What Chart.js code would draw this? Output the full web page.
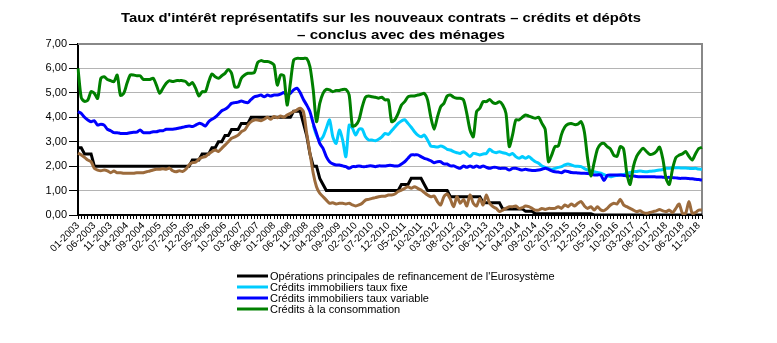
<!DOCTYPE html>
<html>
<head>
<meta charset="utf-8">
<script src="https://cdn.jsdelivr.net/npm/chart.js@4.4.1/dist/chart.umd.min.js"></script>
<style>
  html, body { margin: 0; padding: 0; background: #fff; }
  canvas { display: block; }
</style>
</head>
<body>
<canvas id="chart" width="777" height="343"></canvas>
<script>
"use strict";

const titleLines = [
  "Taux d'intérêt représentatifs sur les nouveaux contrats – crédits et dépôts",
  "– conclus avec des ménages"
];
const seriesNames = [
  "Opérations principales de refinancement de l'Eurosystème",
  "Crédits immobiliers taux fixe",
  "Crédits immobiliers taux variable",
  "Crédits à la consommation",
  "Dépôts"
];
const yTicks = [0, 1, 2, 3, 4, 5, 6, 7];
const firstYear = 2003, lastYear = 2018;
const labelEvery = 5;

// monthly categories 01-2003 .. 12-2018
const months = [];
for (let y = firstYear; y <= lastYear; y++) {
  for (let m = 1; m <= 12; m++) months.push(String(m).padStart(2, "0") + "-" + y);
}

// one row per year, Jan..Dec
const refi = [
  2.75, 2.75, 2.50, 2.50, 2.50, 2.00, 2.00, 2.00, 2.00, 2.00, 2.00, 2.00,
  2.00, 2.00, 2.00, 2.00, 2.00, 2.00, 2.00, 2.00, 2.00, 2.00, 2.00, 2.00,
  2.00, 2.00, 2.00, 2.00, 2.00, 2.00, 2.00, 2.00, 2.00, 2.00, 2.00, 2.25,
  2.25, 2.25, 2.50, 2.50, 2.50, 2.75, 2.75, 3.00, 3.00, 3.25, 3.25, 3.50,
  3.50, 3.50, 3.75, 3.75, 3.75, 4.00, 4.00, 4.00, 4.00, 4.00, 4.00, 4.00,
  4.00, 4.00, 4.00, 4.00, 4.00, 4.00, 4.25, 4.25, 4.25, 3.75, 3.25, 2.50,
  2.00, 2.00, 1.50, 1.25, 1.00, 1.00, 1.00, 1.00, 1.00, 1.00, 1.00, 1.00,
  1.00, 1.00, 1.00, 1.00, 1.00, 1.00, 1.00, 1.00, 1.00, 1.00, 1.00, 1.00,
  1.00, 1.00, 1.00, 1.25, 1.25, 1.25, 1.50, 1.50, 1.50, 1.50, 1.25, 1.00,
  1.00, 1.00, 1.00, 1.00, 1.00, 1.00, 0.75, 0.75, 0.75, 0.75, 0.75, 0.75,
  0.75, 0.75, 0.75, 0.75, 0.50, 0.50, 0.50, 0.50, 0.50, 0.50, 0.25, 0.25,
  0.25, 0.25, 0.25, 0.25, 0.25, 0.15, 0.15, 0.15, 0.05, 0.05, 0.05, 0.05,
  0.05, 0.05, 0.05, 0.05, 0.05, 0.05, 0.05, 0.05, 0.05, 0.05, 0.05, 0.05,
  0.05, 0.05, 0.00, 0.00, 0.00, 0.00, 0.00, 0.00, 0.00, 0.00, 0.00, 0.00,
  0.00, 0.00, 0.00, 0.00, 0.00, 0.00, 0.00, 0.00, 0.00, 0.00, 0.00, 0.00,
  0.00, 0.00, 0.00, 0.00, 0.00, 0.00, 0.00, 0.00, 0.00, 0.00, 0.00, 0.00
];

const immoFixe = [
  null, null, null, null, null, null, null, null, null, null, null, null,
  null, null, null, null, null, null, null, null, null, null, null, null,
  null, null, null, null, null, null, null, null, null, null, null, null,
  null, null, null, null, null, null, null, null, null, null, null, null,
  null, null, null, null, null, null, null, null, null, null, null, null,
  null, null, null, null, null, null, null, null, null, null, null, null,
  3.68, 3.27, 3.07, 3.20, 3.55, 3.89, 3.20, 2.93, 3.48, 3.07, 2.39, 3.68,
  3.55, 3.27, 3.51, 3.51, 3.20, 3.07, 3.07, 3.04, 3.10, 3.20, 3.34, 3.30,
  3.45, 3.60, 3.75, 3.85, 3.90, 3.75, 3.59, 3.41, 3.27, 3.20, 3.27, 3.07,
  2.82, 2.80, 2.78, 2.82, 2.78, 2.69, 2.66, 2.59, 2.55, 2.52, 2.59, 2.50,
  2.39, 2.52, 2.50, 2.46, 2.50, 2.52, 2.69, 2.59, 2.55, 2.59, 2.55, 2.52,
  2.46, 2.52, 2.39, 2.32, 2.39, 2.32, 2.39, 2.28, 2.18, 2.12, 2.01, 1.95,
  1.91, 1.87, 1.91, 1.95, 1.98, 2.05, 2.09, 2.05, 2.00, 2.00, 1.98, 1.90,
  1.84, 1.80, 1.77, 1.74, 1.71, 1.65, 1.60, 1.57, 1.60, 1.62, 1.64, 1.66,
  1.71, 1.74, 1.77, 1.78, 1.80, 1.78, 1.77, 1.79, 1.80, 1.82, 1.84, 1.86,
  1.91, 1.91, 1.93, 1.93, 1.93, 1.92, 1.92, 1.91, 1.90, 1.91, 1.88, 1.87
];

const immoVariable = [
  4.23, 4.16, 4.00, 3.89, 3.82, 3.86, 3.68, 3.72, 3.68, 3.51, 3.45, 3.37,
  3.37, 3.34, 3.34, 3.34, 3.37, 3.39, 3.39, 3.48, 3.37, 3.37, 3.37, 3.41,
  3.41, 3.45, 3.45, 3.51, 3.51, 3.51, 3.53, 3.56, 3.59, 3.62, 3.64, 3.62,
  3.68, 3.75, 3.72, 3.64, 3.82, 3.92, 4.00, 4.13, 4.27, 4.33, 4.43, 4.57,
  4.60, 4.62, 4.67, 4.62, 4.60, 4.73, 4.84, 4.87, 4.91, 4.84, 4.91, 4.87,
  4.91, 4.91, 4.95, 5.01, 4.91, 4.98, 5.12, 5.19, 5.01, 4.73, 4.50, 4.23,
  3.75, 3.34, 2.93, 2.73, 2.39, 2.18, 2.09, 2.05, 2.05, 2.01, 1.98, 1.91,
  1.98, 1.98, 2.01, 1.98, 1.98, 2.01, 2.01, 1.98, 2.01, 2.01, 2.01, 2.03,
  2.03, 2.01, 2.01, 2.09, 2.18, 2.32, 2.46, 2.46, 2.46, 2.39, 2.32, 2.28,
  2.22, 2.14, 2.18, 2.18, 2.09, 2.09, 2.01, 2.01, 1.95, 1.91, 2.01, 1.95,
  2.01, 1.95, 2.01, 1.95, 2.01, 1.95, 1.91, 1.95, 1.95, 1.91, 1.91, 1.91,
  1.84, 1.91, 1.91, 1.87, 1.84, 1.87, 1.84, 1.82, 1.82, 1.84, 1.87, 1.91,
  1.87, 1.81, 1.77, 1.76, 1.73, 1.80, 1.78, 1.74, 1.73, 1.72, 1.71, 1.71,
  1.70, 1.68, 1.64, 1.64, 1.64, 1.41, 1.62, 1.64, 1.64, 1.64, 1.64, 1.62,
  1.60, 1.60, 1.60, 1.58, 1.57, 1.57, 1.57, 1.57, 1.57, 1.56, 1.56, 1.55,
  1.54, 1.54, 1.53, 1.52, 1.50, 1.50, 1.50, 1.49, 1.48, 1.46, 1.45, 1.43
];

const consommation = [
  6.00, 4.80, 4.65, 4.70, 5.05, 4.98, 4.77, 5.60, 5.66, 5.55, 5.50, 5.46,
  5.73, 4.90, 4.98, 5.39, 5.73, 5.73, 5.70, 5.70, 5.55, 5.55, 5.55, 5.60,
  5.32, 4.98, 5.19, 5.39, 5.50, 5.46, 5.50, 5.50, 5.50, 5.46, 5.32, 5.42,
  5.19, 4.87, 5.05, 5.05, 5.46, 5.77, 5.66, 5.60, 5.70, 5.80, 5.96, 5.80,
  5.25, 5.25, 5.60, 5.73, 5.80, 5.80, 5.83, 6.24, 6.32, 6.28, 6.28, 6.24,
  6.14, 5.32, 5.73, 5.70, 4.50, 5.39, 6.34, 6.41, 6.41, 6.41, 6.41, 6.07,
  5.12, 3.82, 4.57, 4.98, 5.14, 5.12, 5.05, 5.10, 5.10, 5.14, 5.14, 4.91,
  3.64, 3.68, 3.89, 4.43, 4.82, 4.87, 4.84, 4.82, 4.78, 4.82, 4.71, 4.71,
  3.82, 3.90, 4.16, 4.50, 4.64, 4.84, 4.87, 4.87, 4.91, 4.94, 4.98, 4.71,
  4.00, 3.51, 4.00, 4.43, 4.57, 4.87, 4.91, 4.82, 4.78, 4.78, 4.71, 4.16,
  3.48, 3.20, 4.23, 4.37, 4.64, 4.64, 4.73, 4.60, 4.57, 4.64, 4.50, 4.16,
  2.80, 3.27, 3.89, 3.89, 4.00, 4.09, 4.05, 4.00, 3.96, 4.00, 3.75, 3.51,
  2.18, 2.46, 2.80, 2.82, 3.30, 3.60, 3.72, 3.75, 3.70, 3.72, 3.82, 3.40,
  2.30, 1.60, 2.15, 2.70, 2.90, 2.93, 2.80, 2.70, 2.45, 2.40, 2.80, 2.70,
  1.70, 1.25, 1.98, 2.40, 2.60, 2.73, 2.60, 2.48, 2.50, 2.60, 2.78, 2.30,
  1.50, 1.25, 1.90, 2.35, 2.45, 2.50, 2.60, 2.40, 2.25, 2.50, 2.72, 2.77
];

const depots = [
  2.53, 2.46, 2.36, 2.25, 2.18, 1.91, 1.84, 1.81, 1.84, 1.81, 1.73, 1.80,
  1.73, 1.73, 1.71, 1.71, 1.71, 1.71, 1.73, 1.73, 1.73, 1.77, 1.80, 1.84,
  1.87, 1.87, 1.89, 1.87, 1.92, 1.81, 1.77, 1.81, 1.78, 1.87, 2.05, 2.14,
  2.16, 2.28, 2.36, 2.39, 2.50, 2.59, 2.66, 2.60, 2.73, 2.86, 3.00, 3.14,
  3.20, 3.27, 3.41, 3.48, 3.68, 3.82, 3.89, 3.89, 3.86, 3.92, 4.00, 3.92,
  4.03, 3.98, 4.05, 4.00, 4.09, 4.16, 4.23, 4.30, 4.37, 4.23, 3.34, 2.53,
  1.71, 1.16, 0.89, 0.75, 0.61, 0.48, 0.50, 0.45, 0.48, 0.48, 0.45, 0.48,
  0.41, 0.37, 0.41, 0.48, 0.61, 0.64, 0.68, 0.71, 0.75, 0.77, 0.77, 0.82,
  0.82, 0.86, 0.96, 1.02, 1.09, 1.16, 1.09, 1.16, 1.09, 1.02, 0.92, 0.82,
  0.75, 0.78, 0.55, 0.41, 0.75, 0.86, 0.64, 0.34, 0.75, 0.48, 0.64, 0.37,
  0.82, 0.48, 0.37, 0.68, 0.41, 0.82, 0.48, 0.34, 0.27, 0.14, 0.20, 0.27,
  0.34, 0.34, 0.37, 0.27, 0.30, 0.37, 0.34, 0.27, 0.20, 0.20, 0.27, 0.23,
  0.27, 0.27, 0.27, 0.34, 0.27, 0.41, 0.34, 0.45, 0.37, 0.48, 0.55, 0.37,
  0.27, 0.34, 0.20, 0.34, 0.21, 0.18, 0.27, 0.41, 0.48, 0.45, 0.64, 0.41,
  0.34, 0.27, 0.20, 0.14, 0.17, 0.10, 0.07, 0.10, 0.14, 0.17, 0.23, 0.17,
  0.14, 0.20, 0.10, 0.27, 0.45, 0.07, 0.07, 0.55, 0.07, 0.10, 0.20, 0.20
];

const colors = ["#000000", "#00ccff", "#0000ff", "#008000", "#9c6b3c"];
const values = [refi, immoFixe, immoVariable, consommation, depots];
const inLegend = [true, true, true, true, false];
// Excel order: later series painted over earlier ones
const drawOrder = [5, 4, 3, 2, 1];

const fmt = v => v.toFixed(2).replace(".", ",");

// title in the reference is a bit wider than plain bold Arial, so stretch to fit
function stretchedText(ctx, text, cx, y, width) {
  const w = ctx.measureText(text).width;
  ctx.save();
  ctx.translate(cx, y);
  ctx.scale(width / w, 1);
  ctx.fillText(text, 0, 0);
  ctx.restore();
}

const frameAndText = {
  id: "frameAndText",
  beforeDatasetsDraw(chart) {
    const { ctx, chartArea: a } = chart;
    ctx.save();
    ctx.strokeStyle = "#888888";
    ctx.lineWidth = 2;
    ctx.beginPath();
    ctx.moveTo(a.left, a.top);
    ctx.lineTo(a.right, a.top);
    ctx.lineTo(a.right, a.bottom);
    ctx.stroke();
    ctx.restore();
  },
  afterDraw(chart) {
    const ctx = chart.ctx;
    ctx.save();
    ctx.fillStyle = "#000";
    ctx.textAlign = "center";
    ctx.textBaseline = "alphabetic";
    ctx.font = "bold 13.5px 'Liberation Sans', Arial, sans-serif";
    stretchedText(ctx, titleLines[0], 381, 22, 520);
    stretchedText(ctx, titleLines[1], 401, 39, 208);

    ctx.font = "11px 'Liberation Sans', Arial, sans-serif";
    ctx.textAlign = "left";
    ctx.textBaseline = "middle";
    let row = 0;
    chart.data.datasets.forEach((ds, i) => {
      if (!inLegend[i]) return;
      const y = 276 + row * 11;
      ctx.strokeStyle = ds.borderColor;
      ctx.lineWidth = 3;
      ctx.beginPath();
      ctx.moveTo(237, y);
      ctx.lineTo(268, y);
      ctx.stroke();
      ctx.fillStyle = "#000";
      ctx.fillText(ds.label, 270, y + 0.5);
      row++;
    });
    ctx.restore();
  }
};

new Chart(document.getElementById("chart"), {
  type: "line",
  data: {
    labels: months,
    datasets: values.map((vals, i) => ({
      label: seriesNames[i],
      data: vals,
      borderColor: colors[i],
      backgroundColor: colors[i],
      borderWidth: 3,
      pointRadius: 0,
      tension: i === 0 ? 0 : 0.25,
      fill: false,
      spanGaps: false,
      order: drawOrder[i]
    }))
  },
  options: {
    responsive: false,
    animation: false,
    devicePixelRatio: 1,
    layout: { padding: { left: 0, right: 75, top: 44, bottom: 78 } },
    plugins: {
      legend: { display: false },
      title: { display: false },
      tooltip: { enabled: false }
    },
    scales: {
      x: {
        offset: false,
        afterFit(scale) { scale.height = 50; },
        grid: {
          display: true,
          drawOnChartArea: false,
          drawTicks: true,
          tickLength: 4,
          tickColor: "#000"
        },
        border: { display: true, color: "#000", width: 2 },
        ticks: {
          autoSkip: false,
          minRotation: 45,
          maxRotation: 45,
          padding: 1,
          color: "#000",
          font: { family: "'Liberation Sans', Arial, sans-serif", size: 10 },
          callback(value, index) {
            return index % labelEvery === 0 ? months[index] : "";
          }
        }
      },
      y: {
        min: yTicks[0],
        max: yTicks[yTicks.length - 1],
        afterFit(scale) { scale.width = 78; },
        afterBuildTicks(scale) { scale.ticks = yTicks.map(v => ({ value: v })); },
        grid: {
          color: "#b4b4b4",
          lineWidth: 1,
          tickColor: "#000",
          tickLength: 9
        },
        border: { display: true, color: "#000", width: 2 },
        ticks: {
          padding: 2,
          color: "#000",
          font: { family: "'Liberation Sans', Arial, sans-serif", size: 11 },
          callback: v => fmt(v)
        }
      }
    }
  },
  plugins: [frameAndText]
});
</script>
</body>
</html>
